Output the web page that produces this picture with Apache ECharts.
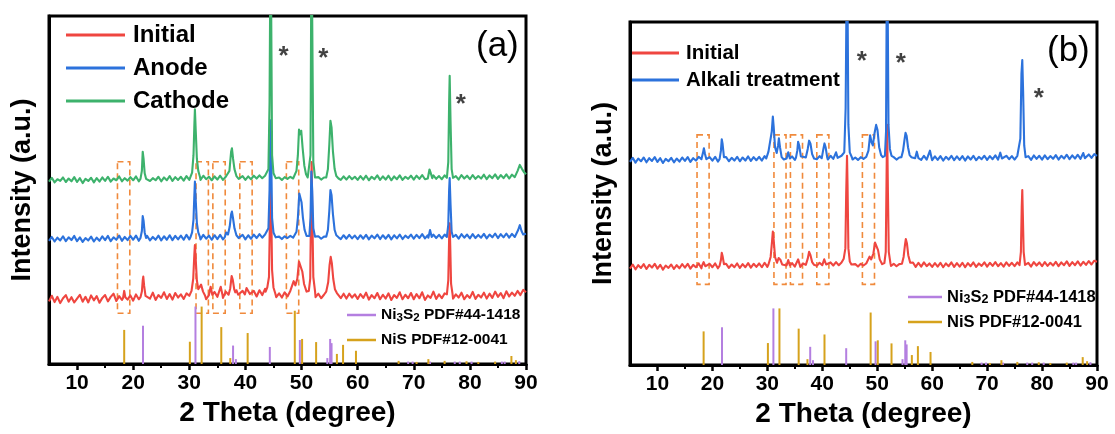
<!DOCTYPE html>
<html>
<head>
<meta charset="utf-8">
<script src="https://cdn.jsdelivr.net/npm/echarts@6/dist/echarts.min.js"></script>
<style>
html,body{margin:0;padding:0;background:#fff;}
#chart{width:1115px;height:434px;}
</style>
</head>
<body>
<div id="chart"></div>
<script>
// ---- XRD scans: baseline sampled every 0.5° from 5° to 90°, peak profiles listed separately ----
const gridStart = 5;
const gridStep = 0.5;

// Panel (a) – Initial
const initialBaseA = [
  18.0,19.6,17.8,19.3,17.5,18.9,19.8,17.9,19.2,17.7,
  18.8,19.9,17.9,19.3,17.7,19.7,18.3,19.5,17.6,19.0,
  19.8,18.0,19.3,20.2,18.1,19.5,18.4,20.3,18.5,19.7,
  18.2,20.0,18.6,19.6,17.9,19.9,18.8,20.5,18.4,19.8,
  19.0,20.6,18.7,20.1,18.5,20.4,19.1,20.0,18.7,20.3,
  19.2,20.4,18.9,20.5,19.3,20.1,18.6,20.3,19.0,20.7,
  19.3,20.5,19.0,20.8,19.4,20.4,18.9,20.9,19.5,21.0,
  19.2,20.7,19.7,21.0,19.4,21.2,19.8,21.6,20.4,22.2,
  20.1,19.2,20.3,19.1,20.6,19.4,21.0,20.0,21.2,21.8,
  20.6,19.7,20.6,19.3,20.5,19.2,20.2,18.9,19.9,20.9,
  21.5,20.3,19.2,20.5,18.9,20.2,18.8,20.2,19.1,20.0,
  18.7,20.1,19.0,20.5,18.5,19.8,18.9,20.4,18.6,19.9,
  18.8,20.3,18.4,19.8,19.0,20.6,18.6,19.9,18.9,20.4,
  18.6,20.1,18.9,20.6,18.4,19.7,19.0,20.8,18.7,20.0,
  18.9,20.3,19.3,20.7,18.8,20.0,19.1,20.5,18.6,19.8,
  19.0,20.7,18.7,19.9,19.1,20.5,18.8,20.2,19.0,20.8,
  19.3,20.4,18.9,20.9,19.4,20.5,19.6,21.0,19.8,21.3,
  20.6
];
const initialPeaksA = [
  [[18.2,19.0],[18.4,21.0],[18.6,19.2]],
  [[21.3,19.2],[21.55,20.8],[21.7,24.0],[21.8,25.1],[21.95,22.5],[22.2,19.6]],
  [[30.0,19.6],[30.4,21.0],[30.7,24.5],[30.9,31.5],[31.0,34.2],[31.15,30.0],[31.35,24.0],[31.6,21.5],[31.9,21.0],[32.1,22.8],[32.25,23.0],[32.45,20.8],[32.8,19.7]],
  [[33.5,19.8],[33.8,22.2],[34.1,19.9]],
  [[35.3,19.8],[35.6,22.2],[35.9,20.0]],
  [[37.0,19.9],[37.3,21.8],[37.55,25.3],[37.75,24.2],[38.0,21.5],[38.2,20.6],[38.4,21.2],[38.7,19.9]],
  [[39.9,20.0],[40.2,21.8],[40.45,21.5],[40.8,20.1]],
  [[43.6,20.8],[43.9,22.0],[44.2,25.0],[44.35,40.0],[44.5,54.0],[44.6,45.0],[44.75,27.0],[45.0,22.0],[45.3,20.4]],
  [[48.1,20.8],[48.6,23.8],[48.9,22.6],[49.25,24.5],[49.55,29.4],[49.85,29.0],[50.15,26.5],[50.45,23.0],[50.9,20.8]],
  [[51.3,21.0],[51.55,24.5],[51.7,45.0],[51.8,58.0],[51.95,40.0],[52.1,25.0],[52.4,21.0]],
  [[54.4,20.8],[54.75,23.5],[55.0,28.5],[55.2,30.8],[55.4,29.0],[55.65,24.5],[55.95,21.5],[56.3,20.4]],
  [[75.9,20.0],[76.15,24.0],[76.3,36.0],[76.4,40.4],[76.5,34.0],[76.65,23.0],[76.9,20.2]]
];

// Panel (a) – Anode
const anodeBaseA = [
  35.4,36.5,35.2,36.3,35.5,36.7,35.3,36.4,35.6,36.8,
  35.3,36.4,35.1,36.2,35.5,36.6,35.2,36.3,35.4,36.7,
  35.6,36.8,35.3,36.4,35.7,36.9,35.4,36.5,35.6,36.8,
  35.7,36.9,35.4,36.6,35.8,36.8,35.5,36.5,35.7,36.9,
  35.5,36.7,35.7,37.0,35.6,36.8,35.8,36.9,35.7,37.1,
  35.8,37.0,35.9,36.8,35.8,37.1,36.0,36.9,35.7,37.0,
  35.9,37.1,35.8,36.9,36.0,37.2,35.9,37.0,36.1,37.1,
  35.8,37.0,36.0,37.2,36.2,37.3,36.3,37.2,36.6,37.6,
  36.5,36.0,36.6,35.9,36.7,36.2,36.8,36.3,36.9,36.7,
  36.4,36.0,36.6,35.9,36.5,36.1,36.7,36.0,36.6,36.2,
  36.8,36.9,36.0,37.1,35.9,37.0,36.0,37.1,36.1,36.9,
  35.9,37.0,36.0,37.1,35.8,36.9,36.1,37.2,35.9,37.0,
  36.0,37.1,35.8,37.0,36.1,37.2,35.9,36.9,36.2,37.2,
  36.0,37.1,36.2,37.3,36.1,37.0,36.0,37.2,36.2,37.1,
  36.1,37.2,36.3,37.4,36.2,37.1,36.0,37.3,36.3,37.2,
  36.1,37.3,36.2,37.1,36.3,37.4,36.1,37.2,36.4,37.5,
  36.2,37.3,36.4,37.5,36.3,37.4,36.5,37.6,36.6,37.7,
  37.4
];
const anodePeaksA = [
  [[21.3,36.2],[21.55,38.2],[21.7,42.5],[21.85,41.2],[22.05,37.8],[22.3,36.2]],
  [[30.2,36.4],[30.5,37.8],[30.75,41.5],[30.9,48.5],[31.0,52.4],[31.15,47.0],[31.35,40.5],[31.6,37.8],[31.9,36.5]],
  [[36.3,36.4],[36.6,37.8],[36.9,37.2],[37.2,39.5],[37.45,43.0],[37.6,43.8],[37.8,41.8],[38.05,39.0],[38.4,37.0],[38.8,36.2]],
  [[43.8,36.8],[44.1,39.0],[44.3,50.0],[44.45,70.0],[44.6,60.0],[44.75,42.0],[45.0,37.8],[45.4,36.4]],
  [[48.8,36.6],[49.1,38.0],[49.35,42.0],[49.6,49.0],[49.8,48.5],[50.0,46.5],[50.25,42.0],[50.55,38.5],[50.9,36.8],[51.1,36.5]],
  [[51.4,36.8],[51.6,42.0],[51.75,55.3],[51.9,50.0],[52.1,39.0],[52.4,36.6]],
  [[54.4,36.6],[54.7,38.5],[54.95,44.0],[55.15,50.0],[55.35,48.5],[55.6,43.0],[55.9,38.5],[56.2,37.0],[56.6,36.4]],
  [[72.6,36.3],[72.9,38.5],[73.2,36.5]],
  [[75.9,36.5],[76.15,40.0],[76.3,50.0],[76.4,53.4],[76.55,46.0],[76.75,38.0],[77.0,36.5]],
  [[88.2,36.6],[88.6,38.5],[88.9,39.9],[89.2,38.2],[89.5,37.2]]
];

// Panel (a) – Cathode
const cathodeBaseA = [
  52.4,53.5,52.2,53.1,52.6,53.6,52.3,53.3,52.5,53.7,
  52.3,53.4,52.0,53.2,52.6,53.5,52.2,53.4,52.4,53.6,
  52.6,53.8,52.4,53.3,52.8,53.9,52.5,53.4,52.7,53.7,
  52.8,53.9,52.5,53.6,52.9,53.7,52.6,53.4,52.8,53.8,
  52.5,53.6,52.8,54.0,52.6,53.7,52.9,53.8,52.7,54.0,
  52.9,54.0,53.0,53.7,52.9,54.1,53.1,53.8,52.8,53.9,
  53.0,54.1,52.9,53.8,53.1,54.2,53.0,53.9,53.2,54.0,
  52.9,53.9,53.1,54.1,53.3,54.2,53.4,54.1,53.6,54.6,
  53.5,53.0,53.6,52.9,53.7,53.2,53.8,53.3,53.9,53.7,
  53.4,53.0,53.6,52.9,53.5,53.1,53.7,53.0,53.6,53.2,
  53.8,53.9,53.0,54.1,52.9,53.9,53.0,54.0,53.1,53.8,
  52.9,54.0,53.0,54.1,52.8,53.8,53.1,54.2,52.9,53.9,
  53.0,54.1,52.8,53.9,53.1,54.2,52.9,53.8,53.2,54.1,
  53.0,54.1,53.2,54.3,53.1,53.9,53.0,54.2,53.2,54.0,
  53.1,54.2,53.3,54.4,53.2,54.0,53.0,54.3,53.3,54.1,
  53.1,54.3,53.2,54.0,53.3,54.4,53.1,54.2,53.4,54.5,
  53.2,54.3,53.4,54.5,53.3,54.4,53.5,54.6,53.6,54.7,
  54.5
];
const cathodePeaksA = [
  [[21.3,53.2],[21.55,55.5],[21.7,61.0],[21.85,59.0],[22.05,54.8],[22.3,53.2]],
  [[30.2,53.4],[30.5,55.0],[30.75,60.0],[30.9,68.5],[31.0,73.2],[31.15,67.0],[31.35,59.0],[31.6,55.5],[31.9,53.8]],
  [[36.8,53.5],[37.15,55.5],[37.45,61.0],[37.6,62.0],[37.8,59.0],[38.05,56.0],[38.4,54.0],[38.8,53.2]],
  [[43.8,53.8],[44.1,56.0],[44.3,75.0],[44.45,115],[44.6,100],[44.75,60.0],[45.0,54.8],[45.4,53.4]],
  [[48.8,53.6],[49.1,55.5],[49.35,60.0],[49.55,67.4],[49.75,66.0],[49.95,67.0],[50.2,62.0],[50.5,57.0],[50.8,54.5],[51.1,53.6]],
  [[51.4,53.9],[51.6,60.0],[51.75,115],[51.9,100],[52.1,58.0],[52.4,53.6]],
  [[54.4,53.6],[54.7,56.0],[54.95,63.0],[55.15,69.9],[55.35,68.0],[55.6,61.0],[55.9,56.0],[56.2,54.0],[56.6,53.3]],
  [[72.5,53.3],[72.8,55.9],[73.0,55.0],[73.3,53.4]],
  [[75.9,53.5],[76.15,58.0],[76.3,75.0],[76.4,82.8],[76.55,70.0],[76.75,56.0],[77.0,53.5]],
  [[88.0,53.7],[88.5,55.5],[88.9,57.2],[89.3,56.0],[89.7,55.0]]
];

// Panel (b) – Initial
const initialBaseB = [
  28.1,29.3,27.9,29.1,28.3,29.4,28.0,29.2,28.4,29.5,
  28.1,29.2,27.8,29.0,28.3,29.3,28.0,29.1,28.2,29.4,
  28.4,29.5,28.1,29.2,28.5,29.6,28.2,29.3,28.4,29.5,
  28.5,29.6,28.2,29.4,28.6,29.5,28.3,29.3,28.5,29.6,
  28.3,29.4,28.5,29.7,28.4,29.5,28.6,29.6,28.5,29.8,
  28.6,29.7,28.7,29.5,28.6,29.8,28.8,29.6,28.5,29.7,
  28.7,29.8,28.6,29.6,28.8,29.9,28.7,29.7,28.9,29.8,
  28.6,29.7,28.8,29.9,29.0,30.0,29.1,29.9,29.4,30.3,
  29.3,28.8,29.4,28.7,29.5,29.0,29.6,29.1,29.7,29.5,
  29.2,28.8,29.4,28.7,29.3,28.9,29.5,28.8,29.4,29.0,
  29.6,29.7,28.8,29.9,28.6,29.8,28.7,29.9,28.8,29.6,
  28.6,29.7,28.7,29.8,28.5,29.6,28.8,29.9,28.6,29.7,
  28.7,29.8,28.5,29.7,28.8,29.9,28.6,29.6,28.9,29.9,
  28.7,29.8,28.9,30.0,28.8,29.7,28.7,29.9,28.9,29.8,
  28.8,29.9,29.0,30.1,28.9,29.8,28.7,30.0,29.0,29.9,
  28.8,30.0,28.9,29.8,29.0,30.1,28.8,29.9,29.1,30.2,
  28.9,30.0,29.1,30.2,29.0,30.1,29.2,30.3,29.3,30.4,
  30.1
];
const initialPeaksB = [
  [[18.1,28.9],[18.4,30.0],[18.7,28.8]],
  [[21.3,28.9],[21.55,30.6],[21.7,32.7],[21.85,31.8],[22.1,29.4]],
  [[30.2,29.3],[30.6,31.5],[30.85,36.0],[31.0,38.9],[31.15,36.5],[31.4,31.5],[31.75,29.8],[32.05,31.2],[32.2,31.6],[32.4,30.6],[32.7,29.3]],
  [[33.5,29.0],[33.8,30.6],[34.1,29.0]],
  [[35.3,29.1],[35.6,30.8],[35.9,29.2]],
  [[37.0,29.2],[37.35,31.0],[37.6,33.0],[37.85,32.0],[38.15,30.0],[38.5,29.2]],
  [[40.0,29.1],[40.35,30.8],[40.7,29.3]],
  [[43.6,29.6],[43.9,31.0],[44.2,34.0],[44.35,50.0],[44.5,61.0],[44.6,52.0],[44.75,34.0],[45.0,30.2],[45.3,29.3]],
  [[48.1,29.5],[48.6,31.6],[48.9,30.8],[49.3,32.5],[49.6,35.7],[49.85,35.5],[50.15,33.5],[50.45,30.8],[50.9,29.4]],
  [[51.3,29.7],[51.55,33.0],[51.7,55.0],[51.8,70.0],[51.95,50.0],[52.1,33.0],[52.4,29.7]],
  [[54.5,29.5],[54.8,31.5],[55.05,35.0],[55.2,36.7],[55.4,35.5],[55.65,32.0],[56.0,29.8]],
  [[75.9,29.1],[76.15,33.0],[76.3,46.0],[76.4,51.0],[76.5,44.0],[76.65,33.0],[76.9,29.2]]
];

// Panel (b) – Alkali treatment
const alkaliBaseB = [
  59.2,60.4,59.0,60.2,59.4,60.5,59.1,60.3,59.5,60.6,
  59.2,60.3,58.9,60.1,59.4,60.4,59.1,60.2,59.3,60.5,
  59.5,60.6,59.2,60.3,59.6,60.7,59.3,60.4,59.5,60.6,
  59.6,60.7,59.3,60.5,59.7,60.6,59.4,60.4,59.6,60.7,
  59.4,60.5,59.6,60.8,59.5,60.6,59.7,60.7,59.6,60.9,
  59.7,60.8,59.8,60.6,59.7,60.9,59.9,60.7,59.6,60.8,
  59.8,60.9,59.7,60.7,59.9,61.0,59.8,60.8,60.0,60.9,
  59.7,60.8,59.9,61.0,60.1,61.1,60.2,61.0,60.5,61.4,
  60.4,59.9,60.5,59.8,60.6,60.1,60.7,60.2,60.8,60.6,
  60.3,59.9,60.5,59.8,60.4,60.0,60.6,59.9,60.5,60.1,
  60.7,60.8,59.9,61.0,59.7,60.9,59.8,61.0,59.9,60.7,
  59.7,60.8,59.8,60.9,59.6,60.7,59.9,61.0,59.7,60.8,
  59.8,60.9,59.6,60.8,59.9,61.0,59.7,60.7,60.0,61.0,
  59.8,60.9,60.0,61.1,59.9,60.8,59.8,61.0,60.0,60.9,
  59.9,61.0,60.1,61.2,60.0,60.9,59.8,61.1,60.1,61.0,
  59.9,61.1,60.0,60.9,60.1,61.2,59.9,61.0,60.2,61.3,
  60.0,61.1,60.2,61.3,60.1,61.2,60.3,61.4,60.4,61.5,
  61.0
];
const alkaliPeaksB = [
  [[18.0,60.0],[18.3,62.0],[18.45,63.2],[18.65,61.5],[18.9,60.0]],
  [[21.3,60.0],[21.55,62.5],[21.7,65.8],[21.85,64.5],[22.1,60.6]],
  [[29.8,60.2],[30.2,62.2],[30.5,62.5],[30.8,68.0],[31.0,72.4],[31.15,69.5],[31.4,63.5],[31.7,61.8],[31.95,64.0],[32.1,66.1],[32.3,63.5],[32.6,60.6]],
  [[33.5,60.2],[33.8,62.0],[34.1,60.2]],
  [[35.2,60.4],[35.45,62.5],[35.6,65.1],[35.8,64.0],[36.1,60.8]],
  [[37.0,60.5],[37.35,63.0],[37.6,65.4],[37.85,64.5],[38.15,61.5],[38.5,60.2]],
  [[39.9,60.3],[40.2,63.0],[40.4,64.6],[40.6,63.5],[40.9,60.5]],
  [[42.2,60.2],[42.5,62.0],[42.8,60.4]],
  [[43.7,60.6],[44.0,62.0],[44.25,75.0],[44.45,115],[44.6,105],[44.75,70.0],[45.0,62.0],[45.4,60.5]],
  [[48.1,60.6],[48.4,62.5],[48.7,67.0],[48.95,65.0],[49.2,64.0],[49.5,67.5],[49.8,70.0],[50.05,68.5],[50.35,63.5],[50.7,61.2],[51.0,60.6]],
  [[51.4,61.0],[51.6,68.0],[51.75,115],[51.9,105],[52.05,70.0],[52.3,63.0],[52.6,61.0]],
  [[54.4,60.6],[54.7,62.5],[54.95,65.5],[55.15,67.7],[55.35,66.8],[55.6,63.5],[55.9,61.2],[56.2,60.6]],
  [[56.9,60.3],[57.2,62.2],[57.5,60.3]],
  [[59.3,60.3],[59.6,62.5],[59.9,60.3]],
  [[72.1,60.2],[72.4,61.9],[72.7,60.2]],
  [[75.8,60.6],[76.05,66.0],[76.25,85.0],[76.4,88.9],[76.55,80.0],[76.75,64.0],[77.0,60.6]],
  [[87.2,60.3],[87.5,61.8],[87.8,60.3]]
];

// Reference patterns: [2θ, relative height]
const ni3s2Ref = [
  [21.75,11.0],[31.1,16.5],[37.8,5.3],[38.3,1.4],[44.35,4.9],[49.7,6.9],[54.6,1.7],[55.1,7.2],[55.35,6.0],
  [69.0,0.7],[69.8,0.7],[72.9,0.7],[77.3,0.7],[78.2,0.7],[80.3,0.7],[85.7,0.7],[86.2,0.7],[88.8,0.8]
];
const nisRef = [
  [18.4,9.8],[30.1,6.4],[32.2,16.5],[35.7,10.6],[37.3,1.7],[40.4,8.9],[48.8,15.3],[50.1,7.2],[52.6,6.3],
  [56.3,2.9],[57.4,5.5],[59.7,3.8],[67.3,0.9],[70.5,0.6],[72.6,1.4],[75.5,0.9],[79.4,0.8],[81.5,0.6],
  [84.5,0.7],[87.4,2.3],[88.2,1.1]
];

// Highlighted 2θ windows (dashed boxes) and their vertical spans
const boxRanges = [[17.2,19.4],[31.2,33.4],[34.2,36.4],[39.0,41.2],[47.3,49.5]];
const boxSpanA = [14.6, 58.1];
const boxSpanB = [23.5, 67.1];

// Asterisk markers for the substrate reflections
const starsA = [[46.8,88.2],[53.9,87.6],[78.4,74.4]];
const starsB = [[47.2,88.3],[54.3,87.8],[79.4,77.6]];

const majorTicks = [10,20,30,40,50,60,70,80,90];
const minorTicks = [15,25,35,45,55,65,75,85];

const legendA = ['Initial','Anode','Cathode'];
const legendB = ['Initial','Alkali treatment'];
const refNames = ['Ni3S2 PDF#44-1418','NiS PDF#12-0041'];

const RED = '#EF4640', BLUE = '#2C72DC', GREEN = '#3DB26C', PURPLE = '#B47FE0', GOLD = '#D6A21C', ORANGE = '#F08A3C';
const FONT = 'Liberation Sans, Arial, sans-serif';

function buildTrace(base, peaks) {
  const pts = [];
  base.forEach((v, i) => {
    const x = gridStart + i * gridStep;
    const inPeak = peaks.some(p => x >= p[0][0] && x <= p[p.length - 1][0]);
    if (!inPeak) pts.push([x, v]);
  });
  peaks.forEach(p => p.forEach(q => pts.push(q)));
  return pts.sort((a, b) => a[0] - b[0]);
}

function traceSeries(name, color, data, idx) {
  return {
    type: 'line', name, xAxisIndex: idx, yAxisIndex: idx,
    data, showSymbol: false, symbol: 'none', clip: true,
    color, lineStyle: { color, width: 2.1, join: 'round' }, itemStyle: { color },
    animation: false, silent: true
  };
}

function stickSeries(name, color, data, idx) {
  return {
    type: 'custom', name, xAxisIndex: idx, yAxisIndex: idx,
    data, color, itemStyle: { color }, clip: true, animation: false, silent: true,
    encode: { x: 0, y: 1 },
    renderItem(params, api) {
      const p0 = api.coord([api.value(0), 0]);
      const p1 = api.coord([api.value(0), api.value(1)]);
      return { type: 'line', shape: { x1: p0[0], y1: p0[1], x2: p1[0], y2: p1[1] },
               style: { stroke: color, lineWidth: 2 } };
    }
  };
}

function markerSeries(stars, span, idx) {
  return {
    type: 'scatter', name: 'marks' + idx, xAxisIndex: idx, yAxisIndex: idx,
    data: stars, symbolSize: 1, itemStyle: { color: 'rgba(0,0,0,0)' }, silent: true, animation: false,
    label: { show: true, formatter: '*', position: 'inside', color: '#111', fontSize: 26, fontWeight: 'bold', fontFamily: FONT },
    markArea: {
      silent: true,
      itemStyle: { color: 'rgba(0,0,0,0)', borderColor: ORANGE, borderWidth: 1.6, borderType: [6, 4] },
      data: boxRanges.map(r => [{ coord: [r[0], span[1]] }, { coord: [r[1], span[0]] }])
    }
  };
}

function mainX(g) {
  return {
    gridIndex: g, type: 'value', min: 5, max: 90, position: 'bottom',
    axisLine: { show: true, onZero: false, lineStyle: { color: '#000', width: 3 } },
    axisTick: { show: true, customValues: majorTicks, length: 6, lineStyle: { color: '#000', width: 2.5 } },
    axisLabel: { customValues: majorTicks, margin: 9, color: '#000', fontSize: 21, fontWeight: 'bold', fontFamily: FONT },
    splitLine: { show: false },
    name: '2 Theta (degree)', nameLocation: 'middle', nameGap: 32,
    nameTextStyle: { color: '#000', fontSize: 28, fontWeight: 'bold', fontFamily: FONT }
  };
}
function minorX(g) {
  return {
    gridIndex: g, type: 'value', min: 5, max: 90, position: 'bottom', offset: 0,
    axisLine: { show: false, onZero: false },
    axisTick: { show: true, customValues: minorTicks, length: 4, lineStyle: { color: '#000', width: 2 } },
    axisLabel: { show: false }, splitLine: { show: false }
  };
}
function mainY(g) {
  return {
    gridIndex: g, type: 'value', min: 0, max: 100,
    axisLine: { show: true, onZero: false, lineStyle: { color: '#000', width: 3 } },
    axisTick: { show: false }, axisLabel: { show: false }, splitLine: { show: false },
    name: 'Intensity (a.u.)', nameLocation: 'middle', nameGap: 13, nameRotate: 90,
    nameTextStyle: { color: '#000', fontSize: 27, fontWeight: 'bold', fontFamily: FONT }
  };
}

function refRich(size) {
  return {
    n: { fontSize: size, fontWeight: 'bold', fontFamily: FONT, color: '#000' },
    s: { fontSize: size - 4, fontWeight: 'bold', fontFamily: FONT, color: '#000', verticalAlign: 'bottom', padding: [6, 0, 0, 0] }
  };
}
function refFormatter(name) {
  return name.indexOf('Ni3S2') === 0 ? '{n|Ni}{s|3}{n|S}{s|2}{n| PDF#44-1418}' : '{n|' + name + '}';
}

const chart = echarts.init(document.getElementById('chart'), null, { renderer: 'canvas' });
chart.setOption({
  animation: false,
  backgroundColor: '#fff',
  title: [
    { text: '(a)', left: 471, top: 24, textStyle: { fontSize: 35, fontWeight: 'normal', fontFamily: FONT, color: '#000' } },
    { text: '(b)', left: 1042, top: 29, textStyle: { fontSize: 35, fontWeight: 'normal', fontFamily: FONT, color: '#000' } }
  ],
  grid: [
    { left: 49, top: 16, width: 477, height: 348, show: true, borderColor: '#000', borderWidth: 3, backgroundColor: 'transparent' },
    { left: 630, top: 22, width: 467, height: 343, show: true, borderColor: '#000', borderWidth: 3, backgroundColor: 'transparent' }
  ],
  xAxis: [mainX(0), mainX(1), minorX(0), minorX(1)],
  yAxis: [mainY(0), mainY(1)],
  legend: [
    { data: legendA, orient: 'vertical', left: 66, top: 21, padding: 0, icon: 'rect', itemWidth: 59, itemHeight: 3, itemGap: 5,
      selectedMode: false, textStyle: { fontSize: 24, fontWeight: 'bold', fontFamily: FONT, color: '#000', lineHeight: 28, padding: [0, 0, 0, 3] } },
    { data: legendB, orient: 'vertical', left: 632, top: 41, padding: 0, icon: 'rect', itemWidth: 47, itemHeight: 3, itemGap: 3,
      selectedMode: false, textStyle: { fontSize: 20.5, fontWeight: 'bold', fontFamily: FONT, color: '#000', lineHeight: 24, padding: [0, 0, 0, 2] } },
    { data: refNames, orient: 'vertical', left: 347, top: 306, padding: 0, icon: 'rect', itemWidth: 29, itemHeight: 2.5, itemGap: 7,
      selectedMode: false, formatter: refFormatter, textStyle: { lineHeight: 18, rich: refRich(15.5) } },
    { data: refNames, orient: 'vertical', left: 908, top: 288, padding: 0, icon: 'rect', itemWidth: 34, itemHeight: 2.5, itemGap: 7,
      selectedMode: false, formatter: refFormatter, textStyle: { lineHeight: 18, rich: refRich(16.5) } }
  ],
  series: [
    traceSeries('Initial', RED, buildTrace(initialBaseA, initialPeaksA), 0),
    traceSeries('Anode', BLUE, buildTrace(anodeBaseA, anodePeaksA), 0),
    traceSeries('Cathode', GREEN, buildTrace(cathodeBaseA, cathodePeaksA), 0),
    stickSeries(refNames[0], PURPLE, ni3s2Ref, 0),
    stickSeries(refNames[1], GOLD, nisRef, 0),
    markerSeries(starsA, boxSpanA, 0),
    traceSeries('Initial', RED, buildTrace(initialBaseB, initialPeaksB), 1),
    traceSeries('Alkali treatment', BLUE, buildTrace(alkaliBaseB, alkaliPeaksB), 1),
    stickSeries(refNames[0], PURPLE, ni3s2Ref, 1),
    stickSeries(refNames[1], GOLD, nisRef, 1),
    markerSeries(starsB, boxSpanB, 1)
  ]
});
</script>
</body>
</html>
